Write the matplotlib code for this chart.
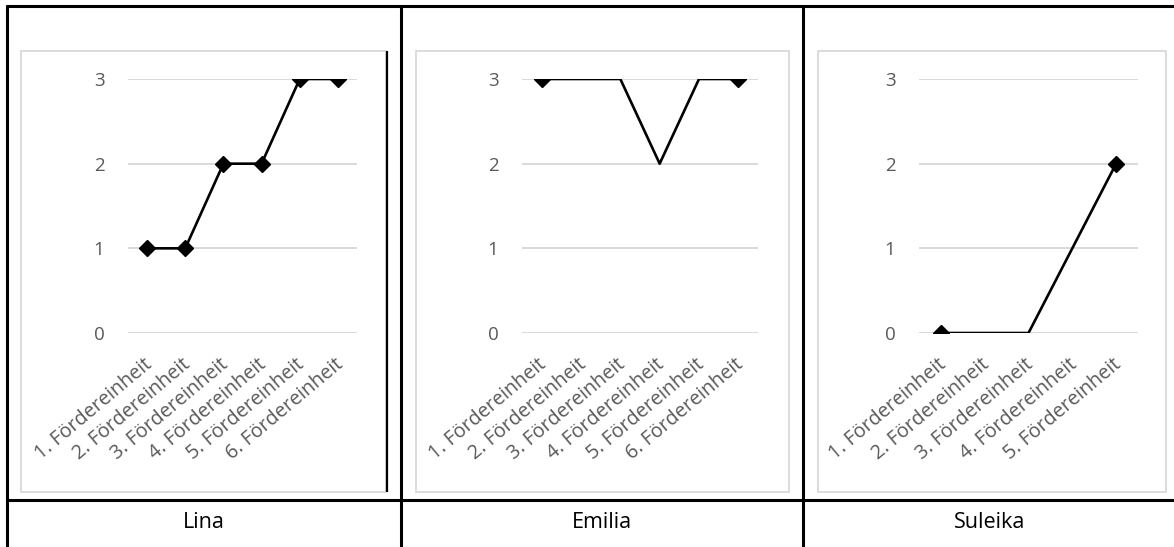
import numpy as np
import matplotlib
matplotlib.use("Agg")
import matplotlib.pyplot as plt
from matplotlib.lines import Line2D
from matplotlib.patches import Rectangle
import matplotlib.transforms as mtransforms

plt.rcParams['font.family'] = ['Open Sans', 'DejaVu Sans']

# data
names = ["Lina", "Emilia", "Suleika"]
cats_lina = ["1. Fördereinheit", "2. Fördereinheit", "3. Fördereinheit",
             "4. Fördereinheit", "5. Fördereinheit", "6. Fördereinheit"]
cats_emilia = list(cats_lina)
cats_suleika = cats_lina[:5]
vals_lina = [1, 1, 2, 2, 3, 3]
vals_emilia = [3, 3, 3, 2, 3, 3]
vals_suleika = [0, 0, 0, 1, 2]
yticks = [0, 1, 2, 3]

W, H = 1174, 547
fig = plt.figure(figsize=(W / 100, H / 100), dpi=100)


def fx(x):
    return x / W


def fy(y):
    return 1 - y / H


def hline(x0, x1, y, lw=2.0, color="black"):
    fig.add_artist(Line2D([fx(x0), fx(x1)], [fy(y), fy(y)], transform=fig.transFigure,
                          color=color, lw=lw, solid_capstyle="butt"))


def vline(x, y0, y1, lw=2.0, color="black"):
    fig.add_artist(Line2D([fx(x), fx(x)], [fy(y0), fy(y1)], transform=fig.transFigure,
                          color=color, lw=lw, solid_capstyle="butt"))


def box(x0, y0, x1, y1):
    fig.add_artist(Rectangle((fx(x0), fy(y1)), fx(x1) - fx(x0), fy(y0) - fy(y1),
                             transform=fig.transFigure, fill=False,
                             edgecolor="#d9d9d9", lw=1.3))


# chart frames (pixel coords)
box(21, 51, 386, 492)
box(416, 51, 789, 492)
box(818, 51, 1166, 492)

panels = [
    (128, 357, cats_lina, vals_lina, None),
    (522, 758, cats_emilia, vals_emilia, [0, 5]),
    (919, 1138, cats_suleika, vals_suleika, [0, 4]),
]

gy0, gy1 = 79, 333
for x0, x1, cats, vals, mev in panels:
    ax = fig.add_axes([fx(x0), fy(gy1), fx(x1) - fx(x0), fy(gy0) - fy(gy1)])
    xs = np.arange(len(cats))
    ln, = ax.plot(xs, vals, color="black", lw=1.9, marker="D", ms=8.5,
                  markevery=mev, zorder=3)
    ln.set_clip_path(ax.patch)  # markers at 0 / 3 get cut in half like the original
    ax.set_xlim(-0.5, len(cats) - 0.5)
    ax.set_ylim(0, 3)
    ax.set_yticks(yticks)
    ax.set_yticklabels([str(t) for t in yticks], fontsize=13.5, color="#595959")
    ax.yaxis.grid(True, color="#d9d9d9", lw=1.4)
    ax.set_axisbelow(True)
    ax.set_xticks(xs)
    ax.set_xticklabels([])
    # rotated category labels, placed per category on the x scale
    trans = mtransforms.blended_transform_factory(ax.transData, ax.transAxes)
    off = mtransforms.ScaledTranslation(-4 / 100, -22 / 100, fig.dpi_scale_trans)
    for i, c in enumerate(cats):
        ax.text(xs[i], 0, c, transform=trans + off, fontsize=14.2, color="#595959",
                rotation=40, ha="right", va="top", rotation_mode="anchor")
    ax.tick_params(axis="both", length=0)
    ax.tick_params(axis="y", pad=17)
    for s in ax.spines.values():
        s.set_visible(False)
    ax.patch.set_alpha(0)

# table lines
hline(6, W, 6, lw=2.2)
hline(6, W, 500, lw=2.2)
for x in (7, 401, 803):
    vline(x, 5, H, lw=2.2)
vline(387, 51, 492, lw=1.6)

# names
for cx, name in zip([204, 602, 990], names):
    fig.text(fx(cx), fy(523), name, ha="center", va="center", fontsize=15.5,
             color="black")

fig.savefig("out.png", dpi=100)
